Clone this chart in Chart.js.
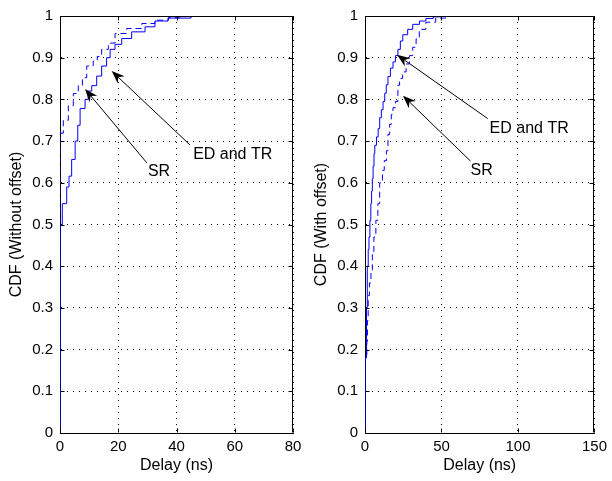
<!DOCTYPE html>
<html><head><meta charset="utf-8">
<script src="https://cdn.jsdelivr.net/npm/chart.js@4/dist/chart.umd.min.js"></script>
<style>
html,body{margin:0;padding:0;background:#fff;}
#wrap{position:relative;width:612px;height:481px;overflow:hidden;background:#fff;}
canvas{position:absolute;top:0;}
</style></head><body>
<div id="wrap">
<canvas id="c1" width="320" height="481" style="left:0px"></canvas>
<canvas id="c2" width="306" height="481" style="left:306px"></canvas>
</div>
<script>
// ---------- data ----------
const yTickValues = [0, 0.1, 0.2, 0.3, 0.4, 0.5, 0.6, 0.7, 0.8, 0.9, 1];
const leftXTicks = [0, 20, 40, 60, 80];
const rightXTicks = [0, 50, 100, 150];

// Left panel (without offset)
const leftEdX = [0, 0, 0.79, 2.3, 3.1, 4.0, 5.2, 6.1, 6.9, 8.6, 9.7, 10.9, 12.6, 14.3, 16.0, 17.2, 18.9, 21.2, 24.6, 29.2, 32.6, 37.1, 45, 52, 58];
const leftEdY = [0, 0.443, 0.498, 0.55, 0.59, 0.616, 0.656, 0.70, 0.738, 0.778, 0.80, 0.82, 0.833, 0.856, 0.88, 0.90, 0.92, 0.932, 0.946, 0.962, 0.974, 0.988, 0.995, 0.999, 1.0];
const leftSrX = [0, 0, 1.13, 2.85, 4.57, 6.28, 7.7, 9.17, 11.4, 12.8, 14.3, 16.6, 18.9, 22.9, 28.1, 32.6, 37.2, 41, 46];
const leftSrY = [0, 0.70, 0.719, 0.75, 0.785, 0.814, 0.833, 0.852, 0.88, 0.892, 0.903, 0.92, 0.935, 0.958, 0.97, 0.982, 0.99, 0.996, 1.0];

// Right panel (with offset)
const rightEdX = [0, 0, 1.0, 1.5, 2.1, 2.6, 3.2, 3.8, 4.3, 4.8, 5.3, 5.9, 6.4, 7.5, 8.6, 9.6, 10.7, 11.8, 12.9, 13.9, 15.0, 16.6, 18.3, 19.9, 21.5, 23.1, 24.7, 27.9, 31.2, 35.6, 39.8, 44.6, 49.5, 56];
const rightEdY = [0, 0.15, 0.18, 0.30, 0.40, 0.44, 0.47, 0.51, 0.55, 0.58, 0.61, 0.64, 0.67, 0.69, 0.71, 0.73, 0.756, 0.775, 0.795, 0.815, 0.835, 0.855, 0.875, 0.89, 0.905, 0.92, 0.94, 0.955, 0.968, 0.98, 0.988, 0.994, 0.998, 1.0];
const rightSrX = [0, 0, 1.2, 1.6, 2.1, 2.9, 3.9, 4.8, 5.8, 7.1, 8.4, 9.6, 11.4, 12.6, 14.0, 15.0, 16.1, 17.2, 18.3, 19.9, 21.5, 22.6, 24.6, 26.9, 29.1, 31.2, 33.4, 35.5, 39.8, 46.2, 54.9, 62, 70];
const rightSrY = [0, 0.15, 0.18, 0.22, 0.27, 0.33, 0.36, 0.39, 0.43, 0.47, 0.51, 0.55, 0.60, 0.63, 0.653, 0.677, 0.716, 0.74, 0.764, 0.78, 0.795, 0.834, 0.85, 0.866, 0.885, 0.905, 0.925, 0.945, 0.968, 0.985, 0.995, 0.999, 1.0];

// Annotations: label position, arrow tail, arrow tip (data coordinates)
const leftNotes = [
  {text: 'ED and TR', tx: 59.3, ty: 0.667, ax: 44.6, ay: 0.691, bx: 17.75, by: 0.868},
  {text: 'SR', tx: 34.0, ty: 0.626, ax: 29.8, ay: 0.648, bx: 8.58, by: 0.825}
];
const rightNotes = [
  {text: 'ED and TR', tx: 107.3, ty: 0.730, ax: 80.2, ay: 0.754, bx: 20.9, by: 0.907},
  {text: 'SR', tx: 76.3, ty: 0.630, ax: 69.0, ay: 0.652, bx: 24.8, by: 0.809}
];

// ---------- drawing ----------
const FONT = "'Liberation Sans', Arial, Helvetica, sans-serif";
const toPts = (xs, ys) => xs.map((x, i) => ({x: x, y: ys[i]}));

function arrow(ctx, x0, y0, x1, y1) {
  const ang = Math.atan2(y1 - y0, x1 - x0);
  const ux = Math.cos(ang), uy = Math.sin(ang);
  const px = -uy, py = ux;
  const L = 13, W = 5, N = 9;
  ctx.beginPath(); ctx.moveTo(x0, y0); ctx.lineTo(x1 - ux * N, y1 - uy * N); ctx.stroke();
  ctx.beginPath();
  ctx.moveTo(x1, y1);
  ctx.lineTo(x1 - ux * L + px * W, y1 - uy * L + py * W);
  ctx.lineTo(x1 - ux * N, y1 - uy * N);
  ctx.lineTo(x1 - ux * L - px * W, y1 - uy * L - py * W);
  ctx.closePath(); ctx.fill();
}

const decor = {
  id: 'decor',
  afterDraw(chart, args, o) {
    const {ctx, chartArea: a, scales: {x, y}} = chart;
    ctx.save();
    ctx.strokeStyle = '#000'; ctx.fillStyle = '#000'; ctx.lineWidth = 1;
    const L = Math.round(a.left) + 0.5, R = Math.round(a.right) - 0.5;
    const T = Math.round(a.top) + 0.5, B = Math.round(a.bottom) - 0.5;
    ctx.beginPath();
    ctx.moveTo(L, T); ctx.lineTo(R, T); ctx.lineTo(R, B);
    ctx.stroke();
    // inner tick marks
    ctx.beginPath();
    o.xTicks.forEach(v => {
      const p = Math.round(x.getPixelForValue(v)) + 0.5;
      ctx.moveTo(p, B); ctx.lineTo(p, B - 4);
      ctx.moveTo(p, T); ctx.lineTo(p, T + 4);
    });
    yTickValues.forEach(v => {
      const p = Math.round(y.getPixelForValue(v)) + 0.5;
      ctx.moveTo(L, p); ctx.lineTo(L + 4, p);
      ctx.moveTo(R, p); ctx.lineTo(R - 4, p);
    });
    ctx.stroke();
    // axis titles
    ctx.font = '16px ' + FONT;
    ctx.textAlign = 'center'; ctx.textBaseline = 'middle';
    ctx.fillText(o.xTitle, (a.left + a.right) / 2, 466);
    ctx.save();
    ctx.translate(a.left - 43.5, (a.top + a.bottom) / 2);
    ctx.rotate(-Math.PI / 2);
    ctx.fillText(o.yTitle, 0, 0);
    ctx.restore();
    // annotations
    o.notes.forEach(n => {
      ctx.fillText(n.text, x.getPixelForValue(n.tx), y.getPixelForValue(n.ty));
      arrow(ctx, x.getPixelForValue(n.ax), y.getPixelForValue(n.ay), x.getPixelForValue(n.bx), y.getPixelForValue(n.by));
    });
    ctx.restore();
  }
};

function makeChart(id, cfg) {
  const tickFont = {family: FONT, size: 15};
  return new Chart(document.getElementById(id), {
    type: 'line',
    data: {datasets: [
      {data: toPts(cfg.edX, cfg.edY), borderColor: '#0000ff', borderWidth: 1, stepped: 'after', pointRadius: 0, fill: false},
      {data: toPts(cfg.srX, cfg.srY), borderColor: '#0000ff', borderWidth: 1, borderDash: [6, 4], stepped: 'after', pointRadius: 0, fill: false}
    ]},
    options: {
      responsive: false, animation: false, events: [],
      layout: {padding: {left: 0, top: 9, right: cfg.padRight, bottom: 0}},
      plugins: {
        legend: {display: false}, tooltip: {enabled: false},
        decor: {xTicks: cfg.xTicks, xTitle: 'Delay (ns)', yTitle: cfg.yTitle, notes: cfg.notes}
      },
      scales: {
        x: {
          type: 'linear', min: 0, max: cfg.xMax,
          afterBuildTicks: s => { s.ticks = cfg.xTicks.map(v => ({value: v})); },
          afterFit: s => { s.height = 48; },
          ticks: {color: '#000', font: tickFont, padding: 5, maxRotation: 0, autoSkip: false, callback: v => String(v)},
          grid: {color: '#000', lineWidth: 1, drawTicks: false},
          border: {display: true, color: '#000', width: 1, dash: [1, 5]}
        },
        y: {
          type: 'linear', min: 0, max: 1,
          afterBuildTicks: s => { s.ticks = yTickValues.map(v => ({value: v})); },
          afterFit: s => { s.width = cfg.yWidth; },
          ticks: {color: '#000', font: tickFont, padding: 7, autoSkip: false, callback: v => String(v)},
          grid: {color: '#000', lineWidth: 1, drawTicks: false},
          border: {display: true, color: '#000', width: 1, dash: [1, 5]}
        }
      }
    },
    plugins: [decor]
  });
}

makeChart('c1', {edX: leftEdX, edY: leftEdY, srX: leftSrX, srY: leftSrY, xMax: 80, xTicks: leftXTicks,
  yTitle: 'CDF (Without offset)', notes: leftNotes, padRight: 27, yWidth: 60});
makeChart('c2', {edX: rightEdX, edY: rightEdY, srX: rightSrX, srY: rightSrY, xMax: 150, xTicks: rightXTicks,
  yTitle: 'CDF (With offset)', notes: rightNotes, padRight: 15, yWidth: 59});
</script>
</body></html>
